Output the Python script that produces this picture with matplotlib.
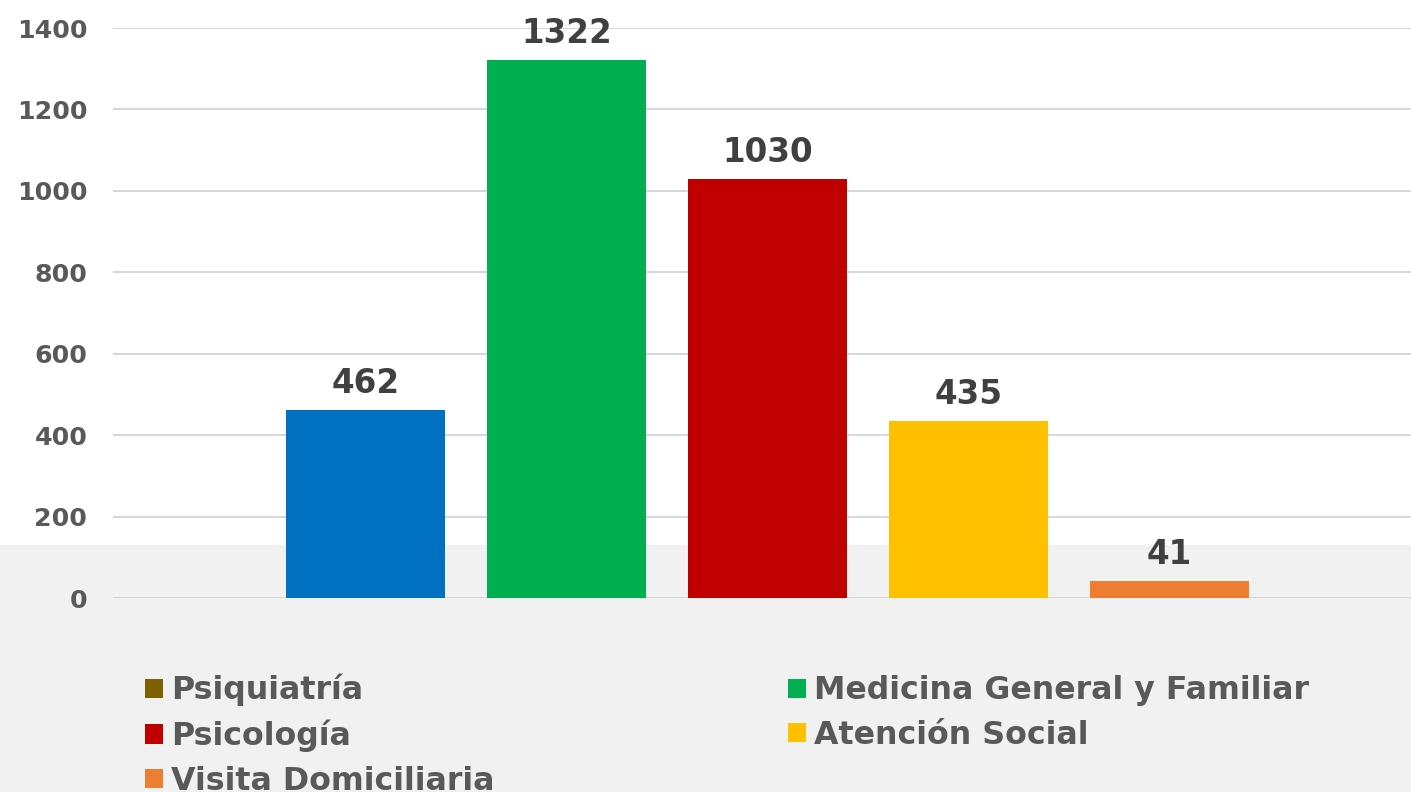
import numpy as np
import matplotlib
matplotlib.use("Agg")
import matplotlib.pyplot as plt
from matplotlib.patches import Rectangle, Patch

# Atenciones por servicio
series_names = ["Psiquiatría", None, "Medicina General y Familiar",
                "Psicología", "Atención Social", "Visita Domiciliaria"]
values = [np.nan, 462, 1322, 1030, 435, 41]
colors = ["#7F6000", "#0070C0", "#00B050", "#C00000", "#FFC000", "#ED7D31"]
yticks = [0, 200, 400, 600, 800, 1000, 1200, 1400]

plt.rcParams["font.family"] = ["DejaVu Sans"]
plt.rcParams["font.weight"] = "bold"

fig = plt.figure(figsize=(14.11, 7.92), dpi=100)
fig.patch.set_facecolor("white")

# lower grey band behind axis base and legend
fig.patches.append(Rectangle((0, 0), 1, 247 / 792, transform=fig.transFigure,
                             facecolor="#F1F1F1", edgecolor="none", zorder=-5))

ax = fig.add_axes([113 / 1411, 194 / 792, 1298 / 1411, 570 / 792])
ax.set_zorder(1)
ax.patch.set_alpha(0)

x = np.arange(len(values))
bw = 159 / 201
bars = ax.bar(x, values, width=bw, color=colors, zorder=3)

for xi, v in zip(x, values):
    if np.isfinite(v):
        ax.annotate(f"{v:g}", (xi, v), xytext=(0, 12.2), textcoords="offset points",
                    ha="center", va="baseline", fontsize=23.5, fontweight="bold",
                    color="#404040", annotation_clip=False)

ax.set_xlim(-0.256, -0.256 + 1298 / 201)
ax.set_ylim(0, 1400)
ax.set_yticks(yticks)
ax.set_yticklabels([str(t) for t in yticks])
ax.set_xticks([])
ax.tick_params(axis="y", length=0, pad=18.5, labelsize=18.2, labelcolor="#595959")
for lab in ax.get_yticklabels():
    lab.set_fontweight("bold")
ax.grid(axis="y", color="#D6D6D6", linewidth=1.4, zorder=0)
for s in ax.spines.values():
    s.set_visible(False)

# legend laid out in two columns, filled column by column
order = [0, 3, 5, 2, 4]
handles = [Patch(facecolor=colors[i], edgecolor="none") for i in order]
labels = [series_names[i] for i in order]
fig.legend(handles, labels, loc="upper left",
           bbox_to_anchor=(145 / 1411, 1 - 674 / 792), ncol=2, frameon=False,
           handlelength=0.565, handleheight=0.565, handletextpad=0.25,
           labelspacing=0.42, columnspacing=9.27, borderpad=0, borderaxespad=0,
           labelcolor="#595959", prop={"weight": "bold", "size": 22.8})

fig.savefig("out.png", dpi=100, facecolor=fig.get_facecolor())
